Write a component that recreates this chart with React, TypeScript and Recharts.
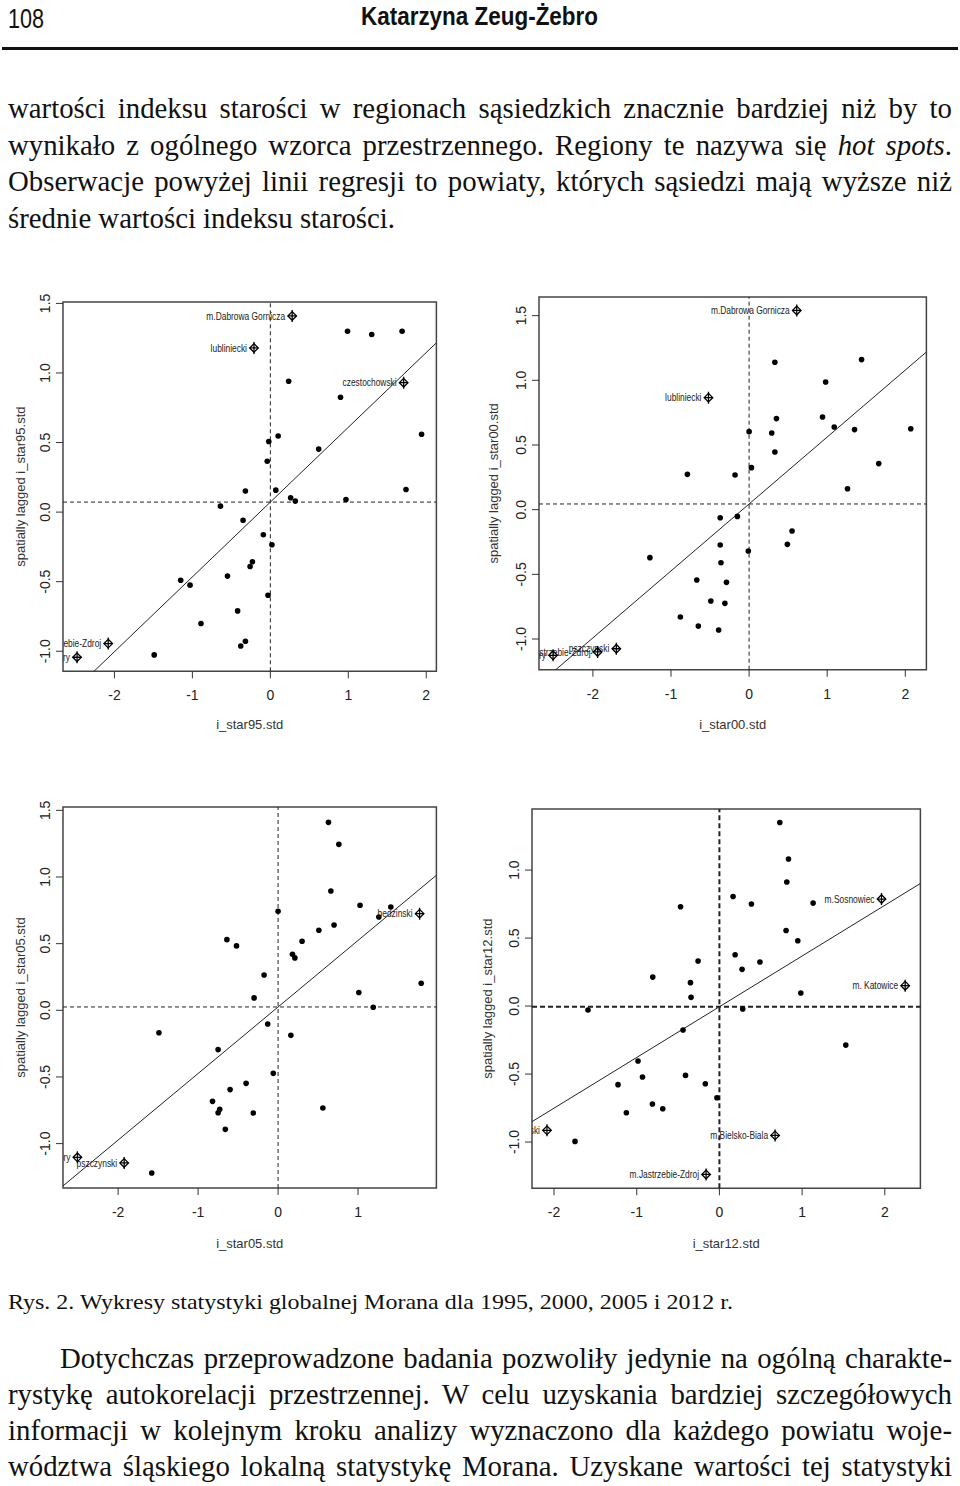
import React from 'react';
import { ScatterChart, Scatter, XAxis, YAxis, ReferenceLine, ReferenceArea } from 'recharts';

// 1995
const x95 = [0.99, 1.3, 1.69, 0.235, 0.9, 1.94, 0.1, -0.02, 0.62, -0.04, -0.32, 0.07, 1.74, 0.26, 0.32, 0.97, -0.64, -0.35, -0.09, 0.02, -0.23, -0.26, -0.55, -1.15, -1.03, -0.03, -0.42, -0.89, -0.32, -0.38, -1.49];
const y95 = [1.3, 1.276, 1.3, 0.94, 0.825, 0.56, 0.547, 0.508, 0.453, 0.365, 0.151, 0.158, 0.163, 0.103, 0.079, 0.091, 0.043, -0.058, -0.163, -0.235, -0.357, -0.391, -0.46, -0.49, -0.525, -0.597, -0.71, -0.8, -0.928, -0.962, -1.026];
const hot95Names = ['m.Dabrowa Gornicza', 'lubliniecki', 'czestochowski', 'm.Jastrzebie-Zdroj', 'm.Zory'];
const hot95X = [0.28, -0.21, 1.71, -2.08, -2.48];
const hot95Y = [1.41, 1.18, 0.93, -0.945, -1.043];

// 2000
const x00 = [0.33, 1.44, 0.98, 0.35, 0.94, 1.09, 1.35, 2.07, 0.0, 0.29, 0.33, 0.03, 1.66, -0.79, -0.18, 1.26, -0.37, -0.15, 0.55, 0.49, -0.37, -0.01, -1.27, -0.36, -0.67, -0.29, -0.49, -0.31, -0.88, -0.65, -0.39];
const y00 = [1.14, 1.16, 0.987, 0.704, 0.716, 0.639, 0.619, 0.626, 0.603, 0.593, 0.446, 0.325, 0.356, 0.273, 0.268, 0.162, -0.062, -0.052, -0.165, -0.268, -0.273, -0.32, -0.371, -0.41, -0.544, -0.562, -0.706, -0.724, -0.83, -0.9, -0.93];
const hot00Names = ['m.Dabrowa Gornicza', 'lubliniecki', 'pszczynski', 'm.Jastrzebie-Zdroj', 'm.Zory'];
const hot00X = [0.61, -0.52, -1.7, -1.94, -2.51];
const hot00Y = [1.54, 0.866, -1.075, -1.1, -1.126];

// 2005
const x05 = [0.63, 0.76, 0.66, 0.0, 1.025, 1.41, 1.26, 0.7, 0.51, 0.3, -0.64, -0.52, 0.18, 0.21, -0.175, 1.79, -0.3, 1.01, 1.19, -0.13, 0.16, -1.49, -0.75, -0.06, -0.4, -0.6, -0.82, -0.73, -0.75, -0.31, 0.56, -0.66, -1.58];
const y05 = [1.41, 1.245, 0.895, 0.743, 0.788, 0.775, 0.7, 0.64, 0.6, 0.518, 0.53, 0.483, 0.42, 0.393, 0.265, 0.203, 0.093, 0.133, 0.023, -0.103, -0.188, -0.168, -0.295, -0.473, -0.548, -0.595, -0.683, -0.743, -0.768, -0.77, -0.733, -0.893, -1.22];
const hot05Names = ['bedzinski', 'pszczynski', 'm.Zory'];
const hot05X = [1.77, -1.925, -2.51];
const hot05Y = [0.725, -1.145, -1.103];

// 2012
const x12 = [0.73, 0.835, 0.815, 0.165, 0.387, 1.133, -0.47, 0.806, 0.948, 0.19, -0.258, 0.49, 0.274, -0.806, -0.35, -0.343, 0.984, -1.589, 0.282, -0.44, 1.528, -0.984, -0.93, -0.41, -1.226, -0.17, -0.03, -0.81, -0.685, -1.125, -1.746];
const y12 = [1.35, 1.081, 0.912, 0.806, 0.75, 0.757, 0.73, 0.556, 0.48, 0.377, 0.331, 0.324, 0.27, 0.213, 0.172, 0.064, 0.096, -0.029, -0.022, -0.176, -0.287, -0.404, -0.522, -0.51, -0.578, -0.571, -0.674, -0.72, -0.755, -0.784, -0.995];
const hot12Names = ['m.Sosnowiec', 'm. Katowice', 'pszczynski', 'm.Bielsko-Biala', 'm.Jastrzebie-Zdroj'];
const hot12X = [1.96, 2.246, -2.085, 0.673, -0.161];
const hot12Y = [0.787, 0.15, -0.914, -0.951, -1.238];

// mean of lagged values and slope of the Moran regression line
const meanLag = [0.072, 0.044, 0.025, -0.005];
const moranSlope = [0.5375, 0.5175, 0.499, 0.373];

const xTickValues = [-2, -1, 0, 1, 2];
const yTickValues = [-1, -0.5, 0, 0.5, 1, 1.5];
const years = ['95', '00', '05', '12'];

const sans = "'Liberation Sans', Arial, sans-serif";
const narrow = "'Liberation Sans Narrow', 'Arial Narrow', 'Liberation Sans', Arial, sans-serif";
const serif = "'Liberation Serif', 'Times New Roman', serif";

// plot box in page pixels + axis domains
const LAYOUT = [
  { left: 63.3, right: 436.7, top: 301.7, bottom: 671, xDomain: [-2.66, 2.13], yDomain: [-1.144, 1.51], yTitleGap: 43, xTitleGap: 54, dashW: 1 },
  { left: 539.3, right: 926.7, top: 297.3, bottom: 670, xDomain: [-2.69, 2.27], yDomain: [-1.237, 1.644], yTitleGap: 46, xTitleGap: 55, dashW: 1 },
  { left: 63.3, right: 436.7, top: 807.3, bottom: 1188.3, xDomain: [-2.69, 1.98], yDomain: [-1.333, 1.525], yTitleGap: 43, xTitleGap: 56, dashW: 1 },
  { left: 532.3, right: 920.7, top: 809, bottom: 1188.3, xDomain: [-2.266, 2.43], yDomain: [-1.34, 1.449], yTitleGap: 45, xTitleGap: 56, dashW: 2 },
];

const PAD_L = 63;
const PAD_T = 20;
const PAD_R = 12;
const PAD_B = 75;

const XTick = (props: any) => (
  <text x={props.x} y={props.y} dy="0.35em" textAnchor="middle" fontSize={14} fontFamily={sans} fill="#222">
    {String(props.payload.value)}
  </text>
);

const YTick = (props: any) => (
  <text
    x={props.x}
    y={props.y}
    dy="0.35em"
    textAnchor="middle"
    transform={`rotate(-90, ${props.x}, ${props.y})`}
    fontSize={14}
    fontFamily={sans}
    fill="#222"
  >
    {Number(props.payload.value).toFixed(1)}
  </text>
);

const Dot = (props: any) => <circle cx={props.cx} cy={props.cy} r={2.8} fill="#000" />;

const HotMark = (props: any) => {
  const { cx, cy, payload } = props;
  const r = 4.3;
  return (
    <g>
      <path d={`M${cx},${cy - r}L${cx + r},${cy}L${cx},${cy + r}L${cx - r},${cy}Z`} fill="none" stroke="#000" strokeWidth={1.3} />
      <line x1={cx} y1={cy - 6} x2={cx} y2={cy + 6} stroke="#000" strokeWidth={1.3} />
      <line x1={cx - r} y1={cy} x2={cx + r} y2={cy} stroke="#000" strokeWidth={1.3} />
      {/* R's label font is condensed; squeeze Arial horizontally */}
      <text
        transform={`translate(${cx - 7}, ${cy}) scale(0.8, 1)`}
        dy="0.35em"
        textAnchor="end"
        fontSize={10.5}
        fontFamily={sans}
        fill="#222"
      >
        {payload.name}
      </text>
    </g>
  );
};

interface PlotProps {
  xs: number[];
  ys: number[];
  hotX: number[];
  hotY: number[];
  hotNames: string[];
  idx: number;
}

function MoranPlot({ xs, ys, hotX, hotY, hotNames, idx }: PlotProps) {
  const lay = LAYOUT[idx];
  const w = lay.right - lay.left + PAD_L + PAD_R;
  const h = lay.bottom - lay.top + PAD_T + PAD_B;
  const [x0, x1] = lay.xDomain;
  const [y0, y1] = lay.yDomain;
  const points = xs.map((x, i) => ({ x, y: ys[i] }));
  const hot = hotX.map((x, i) => ({ x, y: hotY[i], name: hotNames[i] }));
  const mean = meanLag[idx];
  const slope = moranSlope[idx];
  const dash = lay.dashW > 1 ? '5 3' : '4 3';
  return (
    <div style={{ position: 'absolute', left: lay.left - PAD_L, top: lay.top - PAD_T }}>
      <ScatterChart width={w} height={h} margin={{ top: PAD_T, right: PAD_R, bottom: 0, left: 0 }}>
        <XAxis
          type="number"
          dataKey="x"
          domain={[x0, x1]}
          allowDataOverflow
          ticks={xTickValues.filter((t) => t >= x0 && t <= x1)}
          axisLine={false}
          tickLine={{ stroke: '#333' }}
          tickSize={7}
          tickMargin={17}
          height={PAD_B}
          tick={<XTick />}
          label={{
            value: `i_star${years[idx]}.std`,
            position: 'insideBottom',
            offset: PAD_B - lay.xTitleGap - 4,
            fill: '#333',
            style: { fontSize: 13, fontFamily: sans, fill: '#333' },
          }}
        />
        <YAxis
          type="number"
          dataKey="y"
          domain={[y0, y1]}
          allowDataOverflow
          ticks={yTickValues.filter((t) => t >= y0 && t <= y1)}
          axisLine={false}
          tickLine={{ stroke: '#333' }}
          tickSize={7}
          tickMargin={11}
          width={PAD_L}
          tick={<YTick />}
          label={{
            value: `spatially lagged i_star${years[idx]}.std`,
            angle: -90,
            position: 'insideLeft',
            offset: PAD_L - lay.yTitleGap,
            fill: '#333',
            style: { textAnchor: 'middle', fontSize: 13, fontFamily: sans, fill: '#333' },
          }}
        />
        <ReferenceArea x1={x0} x2={x1} y1={y0} y2={y1} fill="none" stroke="#444" strokeWidth={1.5} />
        <ReferenceLine x={0} stroke="#222" strokeWidth={lay.dashW} strokeDasharray={dash} />
        <ReferenceLine y={mean} stroke="#222" strokeWidth={lay.dashW} strokeDasharray={dash} />
        <ReferenceLine
          segment={[
            { x: x0, y: mean + slope * x0 },
            { x: x1, y: mean + slope * x1 },
          ]}
          stroke="#222"
          strokeWidth={1}
          ifOverflow="hidden"
        />
        <Scatter data={points} shape={<Dot />} isAnimationActive={false} />
        <Scatter data={hot} shape={(p: any) => <HotMark {...p} />} isAnimationActive={false} />
      </ScatterChart>
    </div>
  );
}

const justified: React.CSSProperties = {
  textAlign: 'justify',
  textAlignLast: 'justify',
  whiteSpace: 'nowrap',
};

export default function App() {
  return (
    <div
      style={{
        position: 'absolute',
        left: 0,
        top: 0,
        width: 960,
        height: 1486,
        background: '#fff',
        overflow: 'hidden',
        color: '#111',
      }}
    >
      <svg width={960} height={60} style={{ position: 'absolute', left: 0, top: 0 }}>
        <text x={8} y={28} fontSize={28} fontFamily={narrow} textLength={36} lengthAdjust="spacingAndGlyphs" fill="#111">
          108
        </text>
        <text x={361} y={25} fontSize={26} fontWeight="bold" fontFamily={narrow} textLength={237} lengthAdjust="spacingAndGlyphs" fill="#111">
          Katarzyna Zeug-Żebro
        </text>
        <rect x={2} y={47} width={956} height={3} fill="#111" />
      </svg>

      <div style={{ position: 'absolute', left: 8, top: 90, width: 944, fontFamily: serif, fontSize: 28.8, lineHeight: '36.5px' }}>
        <div style={justified}>wartości indeksu starości w regionach sąsiedzkich znacznie bardziej niż by to</div>
        <div style={justified}>
          wynikało z ogólnego wzorca przestrzennego. Regiony te nazywa się <i>hot spots</i>.
        </div>
        <div style={justified}>Obserwacje powyżej linii regresji to powiaty, których sąsiedzi mają wyższe niż</div>
        <div>średnie wartości indeksu starości.</div>
      </div>

      <MoranPlot xs={x95} ys={y95} hotX={hot95X} hotY={hot95Y} hotNames={hot95Names} idx={0} />
      <MoranPlot xs={x00} ys={y00} hotX={hot00X} hotY={hot00Y} hotNames={hot00Names} idx={1} />
      <MoranPlot xs={x05} ys={y05} hotX={hot05X} hotY={hot05Y} hotNames={hot05Names} idx={2} />
      <MoranPlot xs={x12} ys={y12} hotX={hot12X} hotY={hot12Y} hotNames={hot12Names} idx={3} />

      <svg width={960} height={30} style={{ position: 'absolute', left: 0, top: 1285 }}>
        <text x={8} y={24} fontSize={22} fontFamily={serif} textLength={725} lengthAdjust="spacingAndGlyphs" fill="#111">
          Rys. 2. Wykresy statystyki globalnej Morana dla 1995, 2000, 2005 i 2012 r.
        </text>
      </svg>

      <div style={{ position: 'absolute', left: 8, top: 1340, width: 944, fontFamily: serif, fontSize: 28.8, lineHeight: '36px' }}>
        <div style={{ ...justified, textIndent: 52 }}>
          Dotychczas przeprowadzone badania pozwoliły jedynie na ogólną charakte-
        </div>
        <div style={justified}>rystykę autokorelacji przestrzennej. W celu uzyskania bardziej szczegółowych</div>
        <div style={justified}>informacji w kolejnym kroku analizy wyznaczono dla każdego powiatu woje-</div>
        <div style={justified}>wództwa śląskiego lokalną statystykę Morana. Uzyskane wartości tej statystyki</div>
      </div>
    </div>
  );
}
